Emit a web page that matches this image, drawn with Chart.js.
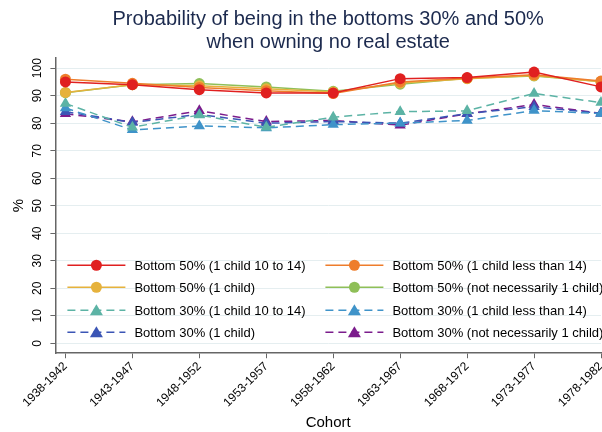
<!DOCTYPE html>
<html lang="en">
<head>
  <meta charset="UTF-8">
  <title>Bottom 30% and 50% by cohort</title>
  <script src="https://cdn.jsdelivr.net/npm/chart.js"></script>
  <style>
    body { margin: 0; background: #fff; }
    #wrap { width: 602px; height: 432px; }
  </style>
</head>
<body>
  <div id="wrap"><canvas id="chartCanvas" width="602" height="432"></canvas></div>

  <script>
    const cohorts = ['1938-1942', '1943-1947', '1948-1952', '1953-1957', '1958-1962',
                     '1963-1967', '1968-1972', '1973-1977', '1978-1982'];
    const yTicks = [0, 10, 20, 30, 40, 50, 60, 70, 80, 90, 100];

    const b50Child10to14 = [95.0, 94.0, 92.2, 91.0, 91.0, 96.2, 96.6, 98.6, 93.2];
    const b50ChildLess14 = [96.0, 94.5, 93.0, 91.8, 90.8, 95.0, 96.4, 97.6, 95.3];
    const b50OneChild    = [91.2, 94.0, 93.6, 92.5, 91.3, 94.6, 96.2, 97.3, 95.1];
    const b50NotNec      = [91.1, 94.0, 94.4, 93.2, 91.6, 94.2, 96.3, 97.2, 95.2];
    const b30Child10to14 = [87.2, 78.5, 83.0, 78.5, 82.2, 84.2, 84.5, 90.8, 87.5];
    const b30ChildLess14 = [85.5, 77.6, 79.0, 78.3, 79.5, 80.0, 81.0, 84.6, 83.5];
    const b30OneChild    = [84.2, 80.3, 83.2, 80.0, 80.6, 80.0, 83.5, 86.0, 83.6];
    const b30NotNec      = [83.4, 80.5, 84.5, 80.6, 81.0, 79.3, 83.4, 86.8, 83.6];

    const seriesNames = [
      'Bottom 50% (1 child 10 to 14)', 'Bottom 50% (1 child less than 14)',
      'Bottom 50% (1 child)', 'Bottom 50% (not necessarily 1 child)',
      'Bottom 30% (1 child 10 to 14)', 'Bottom 30% (1 child less than 14)',
      'Bottom 30% (1 child)', 'Bottom 30% (not necessarily 1 child)'
    ];
    const seriesValues = [b50Child10to14, b50ChildLess14, b50OneChild, b50NotNec,
                          b30Child10to14, b30ChildLess14, b30OneChild, b30NotNec];
    const seriesColors = ['#e02020', '#ee7d2c', '#e6b23c', '#8fbf58',
                          '#5cb3a5', '#3f93c9', '#3b55b5', '#7b1c8c'];

    const FONT = "'Liberation Sans', Arial, sans-serif";

    const datasets = seriesValues.map((vals, i) => {
      const is30 = i >= 4;
      return {
        label: seriesNames[i],
        data: vals.map((v, k) => ({ x: k, y: v })),
        borderColor: seriesColors[i],
        backgroundColor: seriesColors[i],
        borderWidth: 1.5,
        borderDash: is30 ? [8, 5] : [],
        pointStyle: is30 ? 'triangle' : 'circle',
        pointRadius: is30 ? 6.5 : 5.5,
        pointBorderWidth: 0,
        fill: false,
        tension: 0,
        clip: false
      };
    });

    // legend drawn inside the plot area, two columns
    const innerLegend = {
      id: 'innerLegend',
      afterDatasetsDraw(chart) {
        const ctx = chart.ctx;
        const area = chart.chartArea;
        const rowY = [area.bottom - 88, area.bottom - 66, area.bottom - 43, area.bottom - 21];
        const colX = [area.left + 12, area.left + 270];
        ctx.save();
        ctx.font = '13px ' + FONT;
        ctx.textBaseline = 'middle';
        chart.data.datasets.forEach((ds, i) => {
          const x0 = colX[i % 2];
          const y = rowY[Math.floor(i / 2)];
          ctx.strokeStyle = ds.borderColor;
          ctx.lineWidth = 1.5;
          ctx.setLineDash(ds.borderDash);
          ctx.beginPath();
          ctx.moveTo(x0, y);
          ctx.lineTo(x0 + 58, y);
          ctx.stroke();
          ctx.setLineDash([]);
          ctx.fillStyle = ds.borderColor;
          ctx.beginPath();
          if (ds.pointStyle === 'circle') {
            ctx.arc(x0 + 29, y, 5.5, 0, Math.PI * 2);
          } else {
            ctx.moveTo(x0 + 29, y - 6);
            ctx.lineTo(x0 + 35.5, y + 5);
            ctx.lineTo(x0 + 22.5, y + 5);
            ctx.closePath();
          }
          ctx.fill();
          ctx.fillStyle = '#000';
          ctx.fillText(ds.label, x0 + 67, y + 1);
        });
        ctx.restore();
      }
    };

    const ctx = document.getElementById('chartCanvas').getContext('2d');
    new Chart(ctx, {
      type: 'line',
      data: { datasets: datasets },
      plugins: [innerLegend],
      options: {
        responsive: false,
        animation: false,
        layout: { autoPadding: false, padding: { left: 10, right: 1, top: 8, bottom: 0 } },
        plugins: {
          legend: { display: false },
          tooltip: { enabled: false },
          title: {
            display: true,
            fullSize: false,
            text: ['Probability of being in the bottoms 30% and 50%', 'when owning no real estate'],
            color: '#1c2a4e',
            font: { family: FONT, size: 20, weight: 'normal', lineHeight: 1.15 },
            padding: { top: 0, bottom: 4 }
          }
        },
        scales: {
          x: {
            type: 'linear',
            min: -0.15,
            max: 8,
            afterBuildTicks: axis => { axis.ticks = cohorts.map((c, k) => ({ value: k })); },
            afterFit: axis => { axis.paddingRight = 0; },
            ticks: {
              callback: (v) => cohorts[v],
              minRotation: 45,
              maxRotation: 45,
              color: '#000',
              font: { family: FONT, size: 12 },
              padding: 1
            },
            grid: { drawOnChartArea: false, drawTicks: true, tickLength: 5, tickColor: '#666' },
            border: { color: '#666', width: 1.5 },
            title: {
              display: true,
              text: 'Cohort',
              color: '#000',
              font: { family: FONT, size: 15 },
              padding: { top: 3, bottom: 0 }
            }
          },
          y: {
            min: -3.6,
            max: 103.7,
            afterBuildTicks: axis => { axis.ticks = yTicks.map(v => ({ value: v })); },
            ticks: {
              minRotation: 90,
              maxRotation: 90,
              crossAlign: 'center',
              color: '#000',
              font: { family: FONT, size: 12 },
              padding: 3
            },
            grid: { color: '#e5eef0', lineWidth: 1, tickLength: 5, tickColor: '#666' },
            border: { color: '#666', width: 1.5 },
            title: {
              display: true,
              text: '%',
              color: '#000',
              font: { family: FONT, size: 15 },
              padding: { top: 0, bottom: 2 }
            }
          }
        }
      }
    });
  </script>
</body>
</html>
